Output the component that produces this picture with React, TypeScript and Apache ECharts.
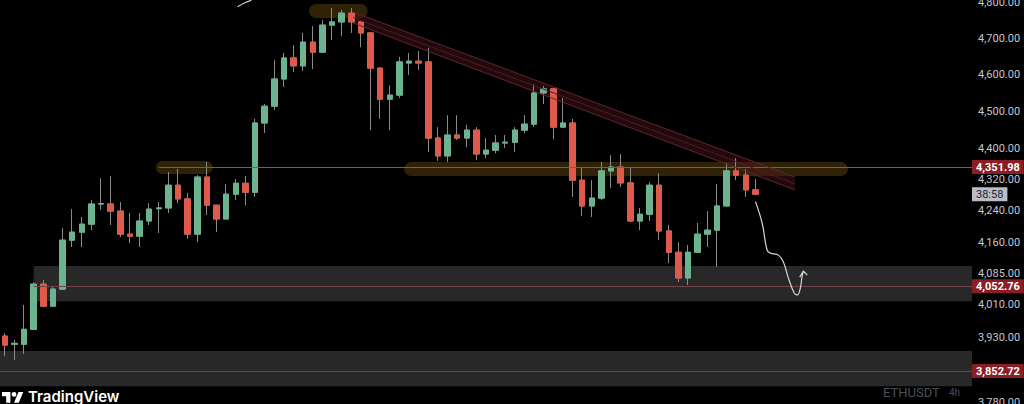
import React, { useEffect, useRef } from "react";
import * as echarts from "echarts";

// ---- DATA ----
// ETHUSDT 4h candles: [open, close, low, high]
const candles: number[][] = [
  [3934, 3913, 3887, 3941],
  [3915, 3917, 3878, 3925],
  [3915, 3950, 3892, 4008],
  [3950, 4058, 3948, 4063],
  [4058, 4005, 4003, 4068],
  [4005, 4046, 4003, 4051],
  [4046, 4166, 4044, 4196],
  [4166, 4186, 4149, 4244],
  [4186, 4206, 4149, 4224],
  [4206, 4257, 4191, 4267],
  [4257, 4258, 4242, 4323],
  [4257, 4239, 4204, 4329],
  [4239, 4181, 4174, 4262],
  [4181, 4176, 4159, 4234],
  [4176, 4214, 4149, 4234],
  [4214, 4244, 4204, 4259],
  [4245, 4247, 4184, 4262],
  [4247, 4305, 4234, 4339],
  [4305, 4270, 4259, 4347],
  [4270, 4181, 4169, 4285],
  [4181, 4326, 4161, 4331],
  [4326, 4254, 4229, 4365],
  [4254, 4219, 4186, 4254],
  [4219, 4282, 4219, 4308],
  [4282, 4310, 4267, 4321],
  [4310, 4287, 4254, 4329],
  [4287, 4468, 4275, 4479],
  [4468, 4513, 4441, 4519],
  [4513, 4587, 4503, 4639],
  [4587, 4645, 4565, 4659],
  [4645, 4623, 4606, 4681],
  [4623, 4689, 4609, 4715],
  [4689, 4661, 4614, 4734],
  [4661, 4737, 4659, 4751],
  [4737, 4746, 4695, 4786],
  [4746, 4771, 4706, 4780],
  [4771, 4746, 4715, 4786],
  [4746, 4715, 4675, 4746],
  [4715, 4617, 4449, 4715],
  [4617, 4532, 4479, 4617],
  [4532, 4543, 4449, 4570],
  [4543, 4634, 4535, 4648],
  [4631, 4636, 4598, 4659],
  [4636, 4631, 4612, 4664],
  [4634, 4428, 4391, 4673],
  [4428, 4381, 4368, 4457],
  [4381, 4436, 4365, 4489],
  [4436, 4428, 4423, 4489],
  [4428, 4449, 4404, 4463],
  [4449, 4386, 4370, 4457],
  [4386, 4396, 4375, 4428],
  [4396, 4415, 4388, 4436],
  [4415, 4417, 4402, 4436],
  [4417, 4449, 4391, 4457],
  [4449, 4465, 4441, 4489],
  [4465, 4549, 4457, 4573],
  [4549, 4560, 4519, 4568],
  [4560, 4457, 4425, 4562],
  [4457, 4468, 4457, 4535],
  [4468, 4318, 4275, 4479],
  [4318, 4252, 4226, 4349],
  [4252, 4272, 4224, 4318],
  [4272, 4342, 4267, 4365],
  [4342, 4352, 4298, 4383],
  [4352, 4311, 4300, 4386],
  [4311, 4214, 4211, 4352],
  [4214, 4231, 4191, 4247],
  [4231, 4305, 4214, 4313],
  [4305, 4189, 4166, 4336],
  [4189, 4136, 4109, 4204],
  [4136, 4073, 4063, 4161],
  [4073, 4136, 4056, 4154],
  [4136, 4181, 4136, 4209],
  [4181, 4191, 4149, 4239],
  [4191, 4252, 4100, 4308],
  [4252, 4342, 4252, 4362],
  [4342, 4331, 4318, 4375],
  [4331, 4293, 4275, 4347],
  [4293, 4282, 4282, 4321],
];
const SLOT_COUNT = 101; // candles plus empty space on the right
const categories = Array.from({ length: SLOT_COUNT }, (_, i) => String(i));

// right price-scale tick labels
const yTicks = [4800, 4700, 4600, 4500, 4400, 4320, 4240, 4160, 4085, 4010, 3930, 3780];
// horizontal price levels and the candle index where each starts
const priceLevels = [4351.98, 4052.76, 3852.72];
const levelStarts = [16, 3, -0.5];
const countdownText = "38:58";

// drawings in [candle index, price]
const zones = [
  [3.0, 4102, 100.5, 4017],
  [-0.5, 3899, 100.5, 3818],
];
const highlights = [
  [31.6, 4797, 37.7, 4757],
  [15.7, 4368, 21.6, 4334],
  [41.5, 4365, 87.6, 4329],
];
const channelTop = [[36.2, 4774], [82.1, 4326]];
const channelMid = [[36.2, 4758], [82.1, 4309]];
const channelBottom = [[36.2, 4743], [82.1, 4293]];
const projectionPath = [
  [78.0, 4263], [78.69, 4209], [79.21, 4141], [79.56, 4134], [80.38, 4129],
  [80.9, 4112], [81.42, 4073], [82.04, 4036], [82.35, 4032], [82.66, 4048],
  [82.83, 4075], [82.97, 4088],
];
const projectionHead = [[82.6, 4075], [82.97, 4090], [83.38, 4080]];
const strayStroke = [[24.18, 4789], [24.9, 4800], [25.63, 4808]];

// ---- helpers ----
const fmt = (v: number) =>
  v.toLocaleString("en-US", { minimumFractionDigits: 2, maximumFractionDigits: 2 });

const TV_LOGO =
  "M14 22H7V11H0V4h14v18z M28 22h-8l7.5-18h8L28 22z M24 8a4 4 0 1 1-8 0a4 4 0 1 1 8 0z";
echarts.graphic.registerShape("tvlogo", echarts.graphic.extendPath(TV_LOGO, {}));

const X_MAX = SLOT_COUNT - 0.5;
const BULL = "#6cb38f";
const BEAR = "#e05a4c";
const WICK = "#8a8a8a";
const FONT = "Roboto";

function buildOption(): any {
  const last = candles[candles.length - 1];

  const tickLines = yTicks.map((v) => ({
    yAxis: v,
    lineStyle: { color: "rgba(0,0,0,0)", width: 0 },
    label: {
      show: true,
      position: "end",
      distance: 6,
      formatter: fmt(v),
      color: "#c3c6cc",
      fontSize: 11,
      fontFamily: FONT,
    },
  }));

  const levelLines = priceLevels.map((p, i) => [
    {
      coord: [levelStarts[i], p],
      lineStyle: { color: i === 0 ? "#9a5530" : "#6e4446", width: 1, type: "solid" },
      label: {
        show: true,
        position: "end",
        distance: 0,
        formatter: fmt(p),
        color: "#ffffff",
        fontWeight: "bold",
        fontSize: 11,
        fontFamily: FONT,
        lineHeight: 11,
        backgroundColor: "#8b1d24",
        padding: [2, 4, 1, 4],
      },
    },
    { coord: [X_MAX, p] },
  ]);

  const countdown = [
    {
      coord: [candles.length - 1, last[1]],
      lineStyle: { color: "rgba(0,0,0,0)", width: 0 },
      label: {
        show: true,
        position: "end",
        distance: 0,
        formatter: countdownText,
        color: "#20232b",
        fontSize: 11,
        fontFamily: FONT,
        lineHeight: 11,
        backgroundColor: "#b9bdc6",
        padding: [2, 4, 1, 4],
      },
    },
    { coord: [X_MAX, last[1]] },
  ];

  const rectRender = (fill: string, r: number) => (_p: any, api: any) => {
    const a = api.coord([api.value(0), api.value(1)]);
    const b = api.coord([api.value(2), api.value(3)]);
    return {
      type: "rect",
      shape: { x: a[0], y: a[1], width: b[0] - a[0], height: b[1] - a[1], r },
      style: { fill },
    };
  };

  const thinLine = (data: number[][], color: string, width: number, smooth = 0) => ({
    type: "line",
    xAxisIndex: 1,
    yAxisIndex: 0,
    data,
    symbol: "none",
    smooth,
    silent: true,
    z: 5,
    lineStyle: { color, width },
  });

  return {
    animation: false,
    backgroundColor: "#000000",
    textStyle: { fontFamily: FONT },
    grid: { left: -2, right: 52, top: 0, bottom: 0, containLabel: false },
    xAxis: [
      { type: "category", data: categories, show: false, boundaryGap: true },
      { type: "value", min: -0.5, max: X_MAX, show: false },
    ],
    yAxis: {
      type: "log",
      logBase: 10,
      min: 3777.7,
      max: 4808.6,
      position: "right",
      axisLine: { show: false },
      axisTick: { show: false },
      splitLine: { show: false },
      minorSplitLine: { show: false },
      axisLabel: { show: false },
    },
    series: [
      {
        type: "custom",
        name: "zones",
        xAxisIndex: 1,
        yAxisIndex: 0,
        silent: true,
        z: 1,
        encode: { x: [0, 2], y: [1, 3] },
        data: zones,
        renderItem: rectRender("#282828", 0),
      },
      {
        type: "custom",
        name: "highlights",
        xAxisIndex: 1,
        yAxisIndex: 0,
        silent: true,
        z: 1,
        encode: { x: [0, 2], y: [1, 3] },
        data: highlights,
        renderItem: rectRender("rgba(120,84,14,0.4)", 7),
      },
      {
        type: "custom",
        name: "channel",
        xAxisIndex: 1,
        yAxisIndex: 0,
        silent: true,
        z: 1,
        encode: { x: [0, 2], y: [1, 3, 4, 5] },
        data: [[
          channelTop[0][0], channelTop[0][1], channelTop[1][0], channelTop[1][1],
          channelBottom[1][1], channelBottom[0][1],
        ]],
        renderItem: (_p: any, api: any) => {
          const pts = [
            api.coord([api.value(0), api.value(1)]),
            api.coord([api.value(2), api.value(3)]),
            api.coord([api.value(2), api.value(4)]),
            api.coord([api.value(0), api.value(5)]),
          ];
          return { type: "polygon", shape: { points: pts }, style: { fill: "rgba(84,18,28,0.42)" } };
        },
      },
      {
        type: "candlestick",
        name: "wicks",
        xAxisIndex: 0,
        yAxisIndex: 0,
        silent: true,
        z: 2,
        barWidth: 6,
        data: candles.map((c) => [c[0], c[1], c[2], c[3]]),
        itemStyle: {
          color: "rgba(0,0,0,0)",
          color0: "rgba(0,0,0,0)",
          borderColor: WICK,
          borderColor0: WICK,
          borderWidth: 1,
        },
      },
      {
        type: "candlestick",
        name: "ETHUSDT",
        xAxisIndex: 0,
        yAxisIndex: 0,
        silent: true,
        z: 3,
        barWidth: 6,
        data: candles.map((c) => [c[0], c[1], Math.min(c[0], c[1]), Math.max(c[0], c[1])]),
        itemStyle: {
          color: BULL,
          color0: BEAR,
          borderColor: BULL,
          borderColor0: BEAR,
          borderWidth: 1,
        },
      },
      thinLine(channelTop, "#5e2631", 1),
      thinLine(channelMid, "#4a1e27", 1),
      thinLine(channelBottom, "#5e2631", 1),
      thinLine(projectionPath, "#d4d4d4", 1.2, 0.4),
      thinLine(projectionHead, "#d4d4d4", 1.2),
      thinLine(strayStroke, "#d4d4d4", 1.2, 0.4),
      {
        type: "line",
        name: "levels",
        xAxisIndex: 1,
        yAxisIndex: 0,
        data: [],
        silent: true,
        z: 6,
        markLine: {
          silent: true,
          symbol: ["none", "none"],
          animation: false,
          data: [...tickLines, ...levelLines, countdown],
        },
      },
    ],
    graphic: [
      {
        type: "tvlogo",
        x: 2,
        y: 389.6,
        scaleX: 0.6,
        scaleY: 0.6,
        style: { fill: "#ffffff" },
      },
      {
        type: "text",
        x: 28,
        y: 396,
        style: {
          text: "TradingView",
          fill: "#ffffff",
          font: "600 15px Inter",
          textVerticalAlign: "middle",
          verticalAlign: "middle",
        },
      },
      {
        type: "text",
        x: 883,
        y: 392,
        style: {
          text: "ETHUSDT",
          fill: "#4b4f58",
          font: "13px Roboto",
          textVerticalAlign: "middle",
          verticalAlign: "middle",
        },
      },
      {
        type: "text",
        x: 949,
        y: 392,
        style: {
          text: "4h",
          fill: "#4b4f58",
          font: "10px Roboto",
          textVerticalAlign: "middle",
          verticalAlign: "middle",
        },
      },
    ],
  };
}

export default function App() {
  const ref = useRef<HTMLDivElement>(null);
  useEffect(() => {
    document.body.style.margin = "0";
    document.body.style.background = "#000";
    const chart = echarts.init(ref.current as HTMLDivElement, null, { renderer: "svg" });
    chart.setOption(buildOption());
    return () => chart.dispose();
  }, []);
  return (
    <div
      ref={ref}
      style={{ position: "fixed", left: 0, top: 0, width: 1024, height: 404, background: "#000" }}
    />
  );
}
